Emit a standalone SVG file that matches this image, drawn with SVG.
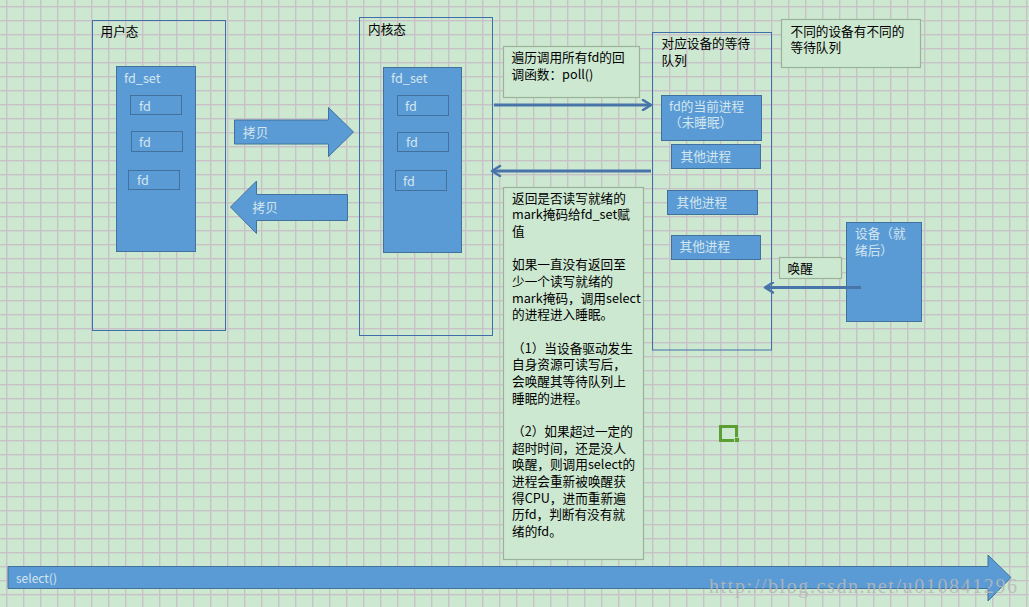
<svg xmlns="http://www.w3.org/2000/svg" width="1029" height="607" viewBox="0 0 1029 607">
<style>
.frame{fill:none;stroke:#3f6fa8;stroke-width:1}
.blue{fill:#5b9bd5;stroke:#41719c;stroke-width:1}
.note{fill:#cde8d0;stroke:#9ab29b;stroke-width:1.2}
.t{font-family:"Noto Sans CJK SC","Noto Sans",sans-serif;font-size:12.67px;fill:#000}
.tl{fill:#d3e6ee}
.conn{stroke:#4874aa;stroke-width:3;fill:none;marker-end:url(#ah)}
</style>
<defs>
<pattern id="grid" x="6" y="6" width="17" height="14" patternUnits="userSpaceOnUse">
<rect width="17" height="14" fill="#cde8d0"/>
<rect x="0" y="0" width="1.4" height="14" fill="#c8c2c8"/>
<rect x="0" y="0" width="17" height="1.4" fill="#c8c2c8"/>
</pattern>
<marker id="ah" viewBox="0 0 12 12" refX="10" refY="6" markerWidth="12" markerHeight="12" markerUnits="userSpaceOnUse" orient="auto">
<path d="M2,1 L10,6 L2,11" fill="none" stroke="#4874aa" stroke-width="2.5" stroke-linecap="round" stroke-linejoin="round"/>
</marker>
</defs>
<rect width="1029" height="607" fill="url(#grid)"/>

<g id="user">
<rect class="frame" x="92.5" y="20.5" width="133" height="310"/>
<text class="t" x="100.5" y="36">用户态</text>
</g>
<g id="user-fdset">
<rect class="blue" x="116.5" y="66.5" width="79" height="185"/>
<text class="t tl" x="124" y="83">fd_set</text>
<rect class="blue" x="130.5" y="95.5" width="51" height="19"/>
<text class="t tl" x="139" y="110.5">fd</text>
<rect class="blue" x="131.5" y="131.5" width="51" height="20"/>
<text class="t tl" x="139" y="147">fd</text>
<rect class="blue" x="128.5" y="170.5" width="51" height="19"/>
<text class="t tl" x="137" y="185">fd</text>
</g>

<g id="copy-right">
<polygon class="blue" points="234.5,120 328.5,120 328.5,107.5 353.5,132 328.5,156.5 328.5,144 234.5,144"/>
<text class="t tl" x="243" y="137">拷贝</text>
</g>
<g id="copy-left">
<polygon class="blue" points="347.5,194.5 256.5,194.5 256.5,181 230.5,207 256.5,233.5 256.5,220.5 347.5,220.5"/>
<text class="t tl" x="252.5" y="212">拷贝</text>
</g>

<g id="kernel">
<rect class="frame" x="359.5" y="17.5" width="133" height="318"/>
<text class="t" x="368" y="34">内核态</text>
</g>
<g id="kernel-fdset">
<rect class="blue" x="383.5" y="67.5" width="78" height="185"/>
<text class="t tl" x="391" y="83">fd_set</text>
<rect class="blue" x="397.5" y="95.5" width="51" height="20"/>
<text class="t tl" x="405" y="110.5">fd</text>
<rect class="blue" x="397.5" y="132.5" width="51" height="19"/>
<text class="t tl" x="406" y="147">fd</text>
<rect class="blue" x="395.5" y="170.5" width="51" height="20"/>
<text class="t tl" x="403" y="185.5">fd</text>
</g>

<g id="note-poll">
<rect class="note" x="503.5" y="46.5" width="136" height="51"/>
<text class="t" x="511.5" y="62">遍历调用所有fd的回<tspan x="511.5" dy="16.5">调函数：poll()</tspan></text>
</g>

<g id="note-return">
<rect class="note" x="503.5" y="187.5" width="140" height="372"/>
<text class="t" x="512" y="202.7">返回是否读写就绪的<tspan x="512" dy="16.67">mark掩码给fd_set赋</tspan><tspan x="512" dy="16.67">值</tspan><tspan x="512" dy="33.33">如果一直没有返回至</tspan><tspan x="512" dy="16.67">少一个读写就绪的</tspan><tspan x="512" dy="16.67">mark掩码，调用select</tspan><tspan x="512" dy="16.67">的进程进入睡眠。</tspan><tspan x="512" dy="33.33">（1）当设备驱动发生</tspan><tspan x="512" dy="16.67">自身资源可读写后，</tspan><tspan x="512" dy="16.67">会唤醒其等待队列上</tspan><tspan x="512" dy="16.67">睡眠的进程。</tspan><tspan x="512" dy="33.33">（2）如果超过一定的</tspan><tspan x="512" dy="16.67">超时时间，还是没人</tspan><tspan x="512" dy="16.67">唤醒，则调用select的</tspan><tspan x="512" dy="16.67">进程会重新被唤醒获</tspan><tspan x="512" dy="16.67">得CPU，进而重新遍</tspan><tspan x="512" dy="16.67">历fd，判断有没有就</tspan><tspan x="512" dy="16.67">绪的fd。</tspan></text>
</g>

<g id="queue">
<rect class="frame" x="652.5" y="32.5" width="119" height="317.5"/>
<text class="t" x="661.5" y="48">对应设备的等待<tspan x="661.5" dy="16.5">队列</tspan></text>
</g>
<g id="note-queues">
<rect class="note" x="781.5" y="19.5" width="139" height="48"/>
<text class="t" x="790.5" y="36">不同的设备有不同的<tspan x="790.5" dy="16">等待队列</tspan></text>
</g>
<g id="proc-current">
<rect class="blue" x="661.5" y="95.5" width="100" height="45"/>
<text class="t tl" x="669" y="111">fd的当前进程<tspan x="669" dy="16">（未睡眠）</tspan></text>
</g>
<g id="proc-1">
<rect class="blue" x="671.5" y="144.5" width="89" height="24"/>
<text class="t tl" x="680.5" y="161">其他进程</text>
</g>
<g id="proc-2">
<rect class="blue" x="667.5" y="190.5" width="90" height="24"/>
<text class="t tl" x="676.5" y="207">其他进程</text>
</g>
<g id="proc-3">
<rect class="blue" x="671.5" y="235.5" width="89" height="24"/>
<text class="t tl" x="679.5" y="251">其他进程</text>
</g>
<g id="device">
<rect class="blue" x="846.5" y="222.5" width="75" height="99"/>
<text class="t tl" x="855" y="238">设备（就<tspan x="855" dy="16.5">绪后）</tspan></text>
</g>
<g id="note-wake">
<rect class="note" x="779.5" y="257.5" width="62" height="21"/>
<text class="t" x="787.5" y="273">唤醒</text>
</g>

<g id="connectors">
<line class="conn" x1="494" y1="105" x2="651" y2="105"/>
<line class="conn" x1="651" y1="171" x2="492" y2="171"/>
<line class="conn" x1="861" y1="287.5" x2="765" y2="287.5"/>
</g>

<g id="marker-box">
<rect x="720.5" y="426.5" width="16" height="14" fill="none" stroke="#5a9e34" stroke-width="3"/>
<rect x="734.5" y="437.5" width="5" height="5" fill="#5a9e34" stroke="#cde8d0" stroke-width="0.8"/>
</g>

<g id="select">
<polygon class="blue" points="8,566.5 988,566.5 988,555 1011,577.5 988,601 988,588.5 8,588.5"/>
<text class="t tl" x="16" y="583" style="font-size:12px">select()</text>
</g>

<text x="709" y="593" textLength="308" lengthAdjust="spacing" style="font-family:'Liberation Serif',serif;font-size:20px;fill:#b8b8b8;opacity:0.85">http://blog.csdn.net/u010841296</text>
</svg>
